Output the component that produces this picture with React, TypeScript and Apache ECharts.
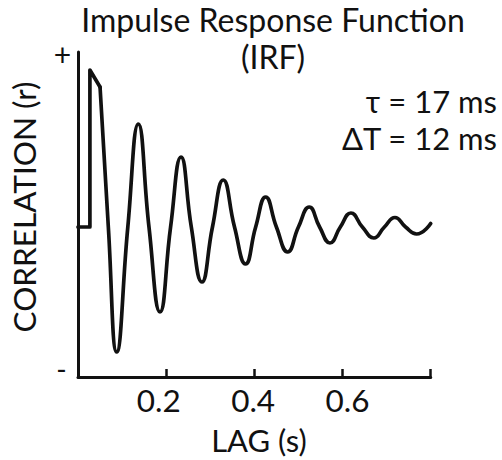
import React, { useEffect, useRef } from "react";
import * as echarts from "echarts";

// Initial rectangular pulse of the IRF (lag in s, correlation in arbitrary units)
const stepLag = [0, 0.027, 0.027, 0.05];
const stepCorr = [0, 0, 0.628, 0.56];

// Damped oscillation that follows the pulse
const oscLag = [
  0.05, 0.0688, 0.0878, 0.113, 0.1368, 0.161, 0.186, 0.21, 0.2336, 0.257, 0.281,
  0.305, 0.3295, 0.355, 0.38, 0.403, 0.4257, 0.45, 0.4755, 0.5, 0.5245, 0.548,
  0.5715, 0.595, 0.619, 0.645, 0.671, 0.695, 0.719, 0.743, 0.768, 0.8,
];
const oscCorr = [
  0.56, 0, -0.5, 0, 0.412, 0, -0.34, 0, 0.28, 0, -0.22, 0, 0.188, 0, -0.148, 0,
  0.12, 0, -0.1, 0, 0.08, 0, -0.064, 0, 0.056, 0, -0.044, 0, 0.038, 0, -0.028,
  0.014,
];

const tickValues = [0.2, 0.4, 0.6];
const tickLabels = ["0.2", "0.4", "0.6"];

const titleLines = ["Impulse Response Function", "(IRF)"];
const annotationLines = ["τ = 17 ms", "ΔT = 12 ms"];
const yName = "CORRELATION (r)";
const xName = "LAG (s)";

const FONT = "Lato, 'Open Sans', sans-serif";
const INK = "#111";

export default function App() {
  const ref = useRef<HTMLDivElement>(null);

  useEffect(() => {
    if (!ref.current) return;
    const chart = echarts.init(ref.current, undefined, { renderer: "svg" });

    const labelFor = (v: number) => {
      const i = tickValues.findIndex((t) => Math.abs(t - v) < 1e-6);
      return i >= 0 ? tickLabels[i] : "";
    };

    chart.setOption({
      animation: false,
      backgroundColor: "#fff",
      title: {
        text: titleLines.join("\n"),
        left: 273,
        top: 1,
        padding: 0,
        textAlign: "center",
        textStyle: {
          fontFamily: FONT,
          fontSize: 32,
          fontWeight: "normal",
          color: INK,
          lineHeight: 37,
        },
      },
      grid: [
        { left: 78, top: 52, width: 352.7, height: 325 },
        { left: 64.5, top: 52, width: 377.3, height: 325 },
      ],
      xAxis: [
        {
          gridIndex: 0,
          type: "value",
          min: 0,
          max: 0.8,
          interval: 0.2,
          axisLine: { show: true, onZero: false, lineStyle: { color: INK, width: 3 } },
          axisTick: { show: true, inside: true, length: 8, lineStyle: { color: INK, width: 2.5 } },
          axisLabel: { show: false },
          splitLine: { show: false },
        },
        {
          gridIndex: 1,
          type: "value",
          min: 0,
          max: 0.8,
          interval: 0.2,
          axisLine: { show: false, onZero: false },
          axisTick: { show: false },
          splitLine: { show: false },
          axisLabel: {
            show: true,
            margin: 6.5,
            fontFamily: FONT,
            fontSize: 31.5,
            lineHeight: 32,
            color: INK,
            formatter: (v: number) => labelFor(v),
          },
        },
      ],
      yAxis: [
        {
          gridIndex: 0,
          type: "value",
          min: -0.6,
          max: 0.7,
          axisLine: { show: true, onZero: false, lineStyle: { color: INK, width: 3 } },
          axisTick: { show: false },
          axisLabel: { show: false },
          splitLine: { show: false },
        },
        { gridIndex: 1, type: "value", min: -0.6, max: 0.7, show: false },
      ],
      series: [
        {
          type: "line",
          xAxisIndex: 0,
          yAxisIndex: 0,
          data: stepLag.map((x, i) => [x, stepCorr[i]]),
          symbol: "none",
          smooth: false,
          lineStyle: { color: INK, width: 3.7, join: "round", cap: "round" },
        },
        {
          type: "line",
          xAxisIndex: 0,
          yAxisIndex: 0,
          data: oscLag.map((x, i) => [x, oscCorr[i]]),
          symbol: "none",
          smooth: 0.5,
          lineStyle: { color: INK, width: 3.7, join: "round", cap: "round" },
        },
      ],
      graphic: [
        {
          type: "text",
          x: 497,
          y: 82.8,
          style: {
            text: annotationLines.join("\n"),
            fill: INK,
            fontFamily: FONT,
            fontSize: 31,
            lineHeight: 37,
            align: "right",
            textAlign: "right",
            verticalAlign: "top",
            textVerticalAlign: "top",
          },
        },
        {
          type: "text",
          x: 24,
          y: 207,
          rotation: Math.PI / 2,
          style: {
            text: yName,
            fill: INK,
            fontFamily: FONT,
            fontSize: 31.5,
            align: "center",
            textAlign: "center",
            verticalAlign: "middle",
            textVerticalAlign: "middle",
          },
        },
        {
          type: "text",
          x: 259,
          y: 424.2,
          style: {
            text: xName,
            fill: INK,
            fontFamily: FONT,
            fontSize: 31,
            lineHeight: 31,
            align: "center",
            textAlign: "center",
            verticalAlign: "top",
            textVerticalAlign: "top",
          },
        },
        {
          type: "text",
          x: 62.5,
          y: 54.3,
          style: {
            text: "+",
            fill: INK,
            fontFamily: FONT,
            fontSize: 30,
            align: "center",
            textAlign: "center",
            verticalAlign: "middle",
            textVerticalAlign: "middle",
          },
        },
        {
          type: "text",
          x: 61.5,
          y: 368.5,
          style: {
            text: "-",
            fill: INK,
            fontFamily: FONT,
            fontSize: 28,
            align: "center",
            textAlign: "center",
            verticalAlign: "middle",
            textVerticalAlign: "middle",
          },
        },
      ],
    });

    return () => chart.dispose();
  }, []);

  return (
    <div
      ref={ref}
      style={{ position: "fixed", left: 0, top: 0, width: 502, height: 460 }}
    />
  );
}
